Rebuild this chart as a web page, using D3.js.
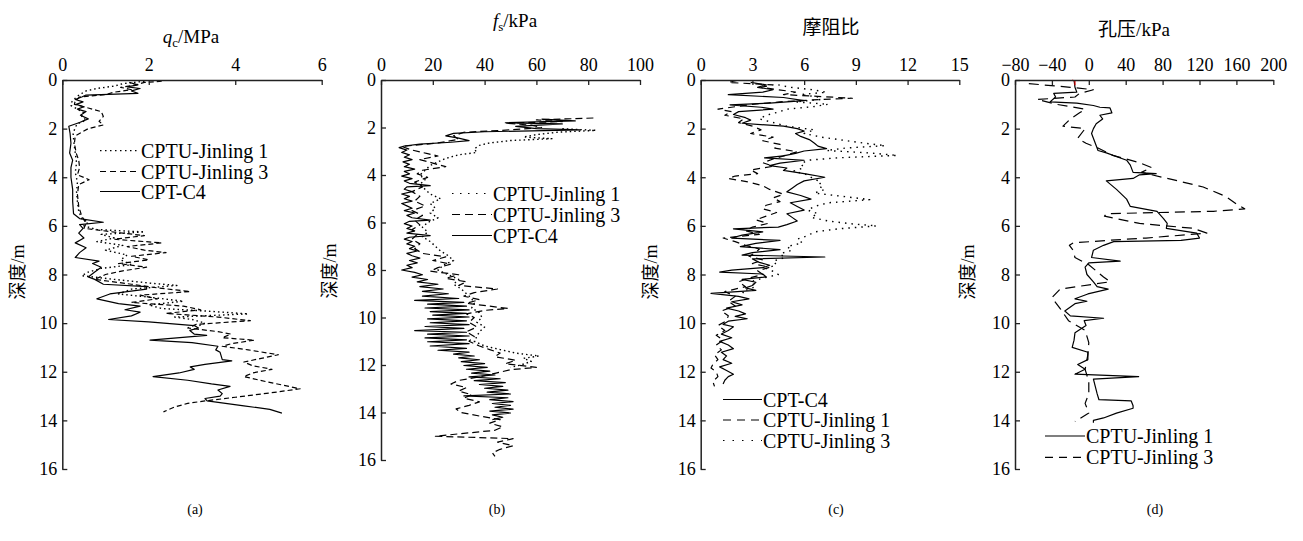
<!DOCTYPE html>
<html><head><meta charset="utf-8">
<script src="https://cdn.jsdelivr.net/npm/d3@7"></script>
<style>
html,body{margin:0;padding:0;background:#fff;}
svg{display:block;}
text{font-family:"Liberation Serif","Times New Roman","Noto Sans CJK SC",serif;fill:#000;}
</style></head><body>
<svg id="chart" width="1303" height="541"></svg>
<script>
// ---------- tick labels ----------
const depthTicks = [0,2,4,6,8,10,12,14,16];
const qcTicks = [0,2,4,6];
const fsTicks = [0,20,40,60,80,100];
const ratioTicks = [0,3,6,9,12,15];
const poreTicks = [-80,-40,0,40,80,120,160,200];
const panelLabels = ["(a)","(b)","(c)","(d)"];

// ---------- (a) qc / MPa : [depth m, value] ----------
const qcC4 = [[0.1,1.55],[0.2,1.75],[0.28,1.5],[0.35,1.8],[0.45,1.6],[0.55,1.75],[0.62,0.55],[0.7,0.45],[0.8,0.3],[0.9,0.48],[1.0,0.32],[1.1,0.5],[1.2,0.35],[1.3,0.55],[1.45,0.42],[1.6,0.6],[1.75,0.4],[1.9,0.15],[2.2,0.18],[2.6,0.2],[3.0,0.17],[3.3,0.24],[3.6,0.2],[4.0,0.2],[4.5,0.24],[5.0,0.24],[5.5,0.26],[5.7,0.4],[5.85,0.95],[5.95,0.4],[6.1,0.48],[6.3,0.38],[6.5,0.5],[6.7,0.3],[6.9,0.55],[7.1,0.4],[7.3,0.3],[7.45,0.85],[7.55,0.7],[7.7,0.9],[7.9,0.75],[8.1,0.6],[8.2,0.75],[8.4,0.95],[8.5,1.95],[8.6,1.95],[8.8,1.1],[9.0,0.8],[9.2,1.3],[9.3,1.8],[9.45,1.45],[9.55,1.8],[9.7,1.6],[9.85,1.07],[9.95,2.0],[10.1,3.05],[10.2,3.15],[10.3,2.95],[10.45,3.05],[10.5,3.34],[10.7,2.03],[10.8,3.0],[10.95,3.6],[11.1,3.55],[11.2,3.65],[11.5,3.7],[11.55,3.92],[11.7,3.3],[11.8,2.96],[11.9,3.05],[12.05,2.7],[12.2,2.1],[12.35,2.9],[12.5,3.45],[12.6,3.88],[12.75,3.6],[12.9,3.7],[13.0,3.65],[13.1,3.3],[13.2,3.35],[13.4,4.2],[13.55,4.8],[13.7,5.08]];
const qcJinling3 = [[0.05,2.3],[0.1,1.9],[0.2,1.7],[0.3,1.35],[0.4,1.6],[0.5,1.2],[0.6,1.0],[0.7,0.4],[0.85,0.3],[1.0,0.28],[1.15,0.6],[1.3,0.9],[1.5,0.95],[1.7,0.85],[1.85,0.95],[2.0,0.6],[2.15,0.45],[2.3,0.3],[2.6,0.28],[3.0,0.32],[3.3,0.38],[3.6,0.4],[3.9,0.35],[4.1,0.62],[4.3,0.38],[4.7,0.35],[5.2,0.38],[5.6,0.45],[5.9,0.55],[6.1,0.5],[6.3,1.4],[6.4,1.9],[6.55,1.2],[6.7,2.3],[6.85,1.5],[7.0,1.9],[7.1,2.4],[7.25,1.6],[7.4,2.0],[7.55,1.3],[7.7,1.95],[7.85,1.4],[8.0,1.0],[8.2,0.75],[8.4,1.6],[8.55,2.2],[8.7,2.96],[8.85,1.8],[9.0,2.2],[9.15,1.6],[9.3,2.8],[9.45,3.2],[9.6,2.4],[9.75,3.6],[9.9,4.35],[10.05,3.1],[10.2,2.9],[10.35,3.6],[10.45,3.9],[10.6,3.7],[10.7,4.45],[10.85,3.9],[10.95,3.7],[11.1,4.3],[11.3,5.0],[11.45,4.6],[11.6,4.2],[11.75,4.4],[11.9,4.85],[12.05,4.4],[12.2,4.2],[12.4,4.7],[12.55,5.1],[12.7,5.5],[12.85,4.9],[13.05,4.0],[13.2,3.3],[13.3,2.9],[13.45,2.6],[13.65,2.34]];
const qcJinling1 = [[0.05,1.9],[0.15,1.4],[0.25,1.2],[0.35,0.8],[0.45,0.55],[0.6,0.4],[0.75,0.3],[0.9,0.22],[1.05,0.2],[1.2,0.35],[1.35,0.5],[1.5,0.45],[1.65,0.55],[1.8,0.35],[1.95,0.3],[2.2,0.25],[2.6,0.27],[3.0,0.3],[3.4,0.33],[3.8,0.3],[4.2,0.35],[4.6,0.33],[5.0,0.35],[5.4,0.38],[5.7,0.45],[5.85,0.6],[6.0,0.5],[6.15,0.8],[6.25,1.9],[6.35,0.9],[6.5,1.2],[6.65,0.8],[6.8,1.4],[7.0,1.0],[7.2,1.5],[7.4,1.35],[7.6,1.6],[7.75,0.9],[7.9,0.6],[8.05,0.45],[8.2,1.2],[8.35,2.0],[8.45,2.65],[8.6,1.6],[8.8,1.3],[8.95,2.1],[9.1,2.8],[9.25,2.0],[9.4,2.3],[9.5,3.3],[9.62,4.3],[9.75,2.6],[9.85,3.0],[10.0,3.3],[10.15,3.1]];

// ---------- (b) fs / kPa ----------
const fsC4 = [[1.65,62],[1.72,75],[1.8,48],[1.85,70],[1.95,52],[2.05,60],[2.1,77],[2.18,40],[2.25,28],[2.35,25],[2.45,30],[2.55,34],[2.62,27],[2.7,15],[2.78,9],[2.85,7],[2.95,10],[3.05,8],[3.15,11],[3.25,9],[3.35,12],[3.45,8.5],[3.55,11],[3.65,9],[3.75,13],[3.85,9],[3.95,11],[4.05,8],[4.15,12],[4.25,9],[4.35,11],[4.45,19],[4.5,10],[4.6,9],[4.7,12],[4.8,8],[4.9,11],[5.0,9],[5.1,12],[5.2,8],[5.3,10],[5.4,12],[5.5,9],[5.6,13],[5.7,10],[5.8,12],[5.9,19],[5.95,11],[6.05,9],[6.15,12],[6.25,10],[6.35,13],[6.45,10],[6.55,19],[6.62,11],[6.7,9],[6.8,12],[6.9,10],[7.0,13],[7.1,11],[7.2,14],[7.3,10],[7.4,12],[7.5,15],[7.6,11],[7.7,14],[7.8,10],[7.9,12],[8.0,8],[8.1,13],[8.2,16],[8.3,12],[8.4,18],[8.5,14],[8.6,22],[8.7,15],[8.8,24],[8.9,16],[9.0,26],[9.1,16],[9.2,30],[9.28,13],[9.36,32],[9.44,18],[9.52,33],[9.6,17],[9.68,34],[9.75,19],[9.83,33],[9.9,20],[9.98,34],[10.06,18],[10.14,33],[10.22,19],[10.3,34],[10.38,17],[10.46,32],[10.55,13],[10.62,33],[10.7,18],[10.78,34],[10.86,17],[10.94,33],[11.02,18],[11.1,34],[11.2,19],[11.3,33],[11.38,22],[11.46,34],[11.54,28],[11.62,36],[11.7,30],[11.78,38],[11.86,31],[11.94,40],[12.02,32],[12.1,41],[12.18,33],[12.26,42],[12.34,35],[12.42,44],[12.5,34],[12.58,46],[12.66,36],[12.74,48],[12.82,38],[12.9,47],[12.98,40],[13.06,49],[13.14,41],[13.22,50],[13.3,32],[13.38,49],[13.46,42],[13.54,51],[13.62,43],[13.7,50],[13.78,44],[13.86,51],[13.94,42],[14.02,50],[14.1,43],[14.2,47],[14.3,43]];
const fsJinling3 = [[1.6,82],[1.68,60],[1.75,70],[1.82,48],[1.9,58],[2.0,62],[2.1,50],[2.2,32],[2.35,28],[2.5,30],[2.65,22],[2.8,8],[2.95,12],[3.1,18],[3.2,22],[3.35,15],[3.5,20],[3.65,25],[3.8,16],[3.95,14],[4.1,18],[4.3,13],[4.5,16],[4.7,12],[4.9,15],[5.1,13],[5.3,17],[5.5,12],[5.7,16],[5.9,13],[6.1,15],[6.3,12],[6.5,14],[6.7,12],[6.9,15],[7.1,13],[7.3,16],[7.45,25],[7.6,20],[7.75,27],[7.9,22],[8.05,19],[8.2,30],[8.35,25],[8.5,33],[8.65,30],[8.8,45],[8.95,36],[9.1,32],[9.25,38],[9.4,33],[9.55,44],[9.62,49],[9.7,40],[9.85,33],[10.0,36],[10.2,34],[10.4,37],[10.6,33],[10.8,36],[11.0,34],[11.2,38],[11.35,42],[11.5,46],[11.65,44],[11.8,52],[11.95,48],[12.1,60],[12.2,50],[12.35,44],[12.5,38],[12.65,30],[12.8,27],[12.95,33],[13.1,30],[13.25,35],[13.4,32],[13.55,38],[13.7,34],[13.85,29],[14.0,31],[14.15,38],[14.3,46],[14.45,42],[14.6,47],[14.75,44],[14.9,30],[15.0,21],[15.1,51],[15.25,45],[15.4,51],[15.55,46],[15.7,43],[15.85,44]];
const fsJinling1 = [[2.05,70],[2.12,83],[2.2,68],[2.3,60],[2.4,55],[2.47,66],[2.55,50],[2.65,42],[2.75,38],[2.9,36],[3.05,37],[3.15,30],[3.3,25],[3.45,22],[3.6,19],[3.8,17],[4.0,15],[4.2,17],[4.4,15],[4.6,17],[4.8,19],[5.0,23],[5.2,19],[5.4,21],[5.6,19],[5.8,22],[6.0,18],[6.2,16],[6.4,18],[6.6,16],[6.8,19],[7.0,21],[7.2,23],[7.4,26],[7.6,28],[7.8,24],[8.0,22],[8.2,26],[8.4,30],[8.6,28],[8.8,31],[9.0,33],[9.2,35],[9.4,36],[9.6,35],[9.8,38],[10.0,39],[10.2,37],[10.4,40],[10.6,38],[10.8,37],[11.0,36],[11.2,40],[11.35,46],[11.5,52],[11.62,61],[11.72,55],[11.85,58],[12.0,54],[12.1,50]];

// ---------- (c) friction ratio ----------
const ratioC4 = [[0.1,2.9],[0.2,3.8],[0.3,3.3],[0.4,4.2],[0.5,3.6],[0.6,1.6],[0.72,4.8],[0.85,6.0],[0.95,4.0],[1.02,1.7],[1.12,3.5],[1.2,4.2],[1.3,2.2],[1.42,1.9],[1.55,2.6],[1.65,2.9],[1.78,2.4],[1.9,4.8],[2.0,5.6],[2.1,6.0],[2.2,5.5],[2.32,5.8],[2.45,6.3],[2.6,6.6],[2.72,6.8],[2.82,7.3],[2.92,6.0],[3.02,5.5],[3.12,4.8],[3.2,3.7],[3.3,6.0],[3.42,4.6],[3.52,4.0],[3.62,5.0],[3.72,4.8],[3.85,6.0],[4.0,7.2],[4.15,6.0],[4.3,5.6],[4.45,5.3],[4.6,5.0],[4.75,5.8],[4.9,6.4],[5.05,5.2],[5.2,5.6],[5.35,6.0],[5.5,5.0],[5.65,5.3],[5.8,5.6],[5.95,5.0],[6.05,4.5],[6.12,1.9],[6.25,3.6],[6.38,2.4],[6.5,1.8],[6.6,4.6],[6.72,3.2],[6.85,2.3],[6.98,4.6],[7.1,3.0],[7.2,2.4],[7.28,7.2],[7.36,3.0],[7.5,3.4],[7.62,4.0],[7.72,3.6],[7.82,1.8],[7.9,1.1],[7.98,3.6],[8.1,3.8],[8.2,2.4],[8.32,3.2],[8.45,3.0],[8.55,2.6],[8.65,3.2],[8.78,0.6],[8.9,2.2],[9.0,2.8],[9.12,1.8],[9.25,2.4],[9.38,1.5],[9.5,2.2],[9.62,2.6],[9.72,2.0],[9.82,2.7],[9.92,1.6],[10.05,1.3],[10.15,1.9],[10.3,1.6],[10.45,1.2],[10.6,1.8],[10.75,1.1],[10.9,1.6],[11.05,1.9],[11.2,1.2],[11.35,1.5],[11.5,1.3],[11.65,1.8],[11.8,1.1],[11.95,1.5],[12.1,1.9],[12.2,1.6],[12.35,1.4],[12.5,1.3]];
const ratioJinling1 = [[0.02,2.1],[0.1,1.6],[0.2,4.2],[0.3,3.5],[0.4,4.5],[0.5,5.5],[0.6,4.8],[0.75,8.8],[0.82,6.5],[0.9,4.6],[1.0,3.0],[1.1,2.0],[1.2,1.0],[1.3,1.8],[1.45,1.4],[1.6,2.5],[1.75,2.2],[1.9,3.0],[2.05,3.5],[2.2,2.9],[2.35,4.2],[2.5,3.6],[2.65,4.6],[2.8,4.3],[2.95,5.6],[3.1,4.9],[3.25,4.2],[3.4,3.6],[3.55,4.2],[3.7,2.9],[3.85,3.3],[3.95,2.0],[4.05,1.6],[4.2,2.8],[4.35,3.6],[4.5,4.0],[4.7,4.8],[4.85,4.2],[5.0,4.6],[5.15,3.8],[5.3,3.6],[5.45,4.4],[5.6,3.8],[5.75,3.2],[5.9,3.9],[6.05,3.0],[6.2,2.6],[6.35,3.4],[6.5,1.3],[6.65,2.0],[6.8,2.6],[6.95,3.4],[7.1,3.2],[7.25,2.8],[7.4,3.6],[7.55,3.0],[7.7,4.0],[7.85,3.3],[8.0,3.6],[8.15,2.8],[8.3,2.2],[8.5,2.6],[8.7,1.4],[8.9,2.0],[9.1,1.6],[9.3,2.0],[9.5,1.2],[9.7,1.6],[9.9,1.5],[10.1,1.0],[10.3,1.4],[10.5,0.9],[10.7,1.3],[10.9,0.9],[11.1,1.2],[11.3,0.8],[11.5,1.0],[11.7,0.7],[11.85,0.6],[12.0,0.9],[12.2,1.0],[12.4,0.7],[12.6,0.8]];
const ratioJinling3 = [[0.2,4.5],[0.3,5.2],[0.4,6.5],[0.5,7.3],[0.6,5.8],[0.7,6.8],[0.8,7.0],[0.9,5.5],[1.0,7.4],[1.1,6.5],[1.2,5.0],[1.3,4.6],[1.45,3.8],[1.6,3.4],[1.75,4.2],[1.9,5.0],[2.05,6.6],[2.2,6.0],[2.35,7.0],[2.5,8.5],[2.6,9.5],[2.7,10.7],[2.8,8.4],[2.9,7.3],[3.0,9.8],[3.1,11.4],[3.2,8.0],[3.3,6.2],[3.45,5.8],[3.6,6.0],[3.75,5.4],[3.9,6.2],[4.05,6.5],[4.2,7.0],[4.35,6.8],[4.5,7.2],[4.65,6.6],[4.8,8.4],[4.92,9.8],[5.05,7.4],[5.2,6.6],[5.35,6.2],[5.5,6.8],[5.65,6.4],[5.8,7.4],[5.92,8.8],[6.0,10.2],[6.12,8.0],[6.25,6.6],[6.4,6.2],[6.55,5.6],[6.7,5.9],[6.85,5.0],[7.0,5.3],[7.15,4.6],[7.3,4.9],[7.45,4.2],[7.6,4.4],[7.75,3.8],[7.9,4.3],[8.0,4.5],[8.15,3.6],[8.3,2.9],[8.5,3.2],[8.7,2.4],[8.9,2.7]];

// ---------- (d) pore pressure / kPa ----------
const poreJinling1 = [[0,-16],[0.3,-15],[0.5,-13],[0.55,-38],[0.7,-36],[0.9,-42],[0.95,-13],[1.05,5],[1.12,12],[1.15,23],[1.35,25],[1.45,12],[1.6,15],[1.8,8],[2.0,5],[2.2,3],[2.5,6],[2.9,10],[3.0,19],[3.3,41],[3.5,45],[3.8,48],[3.85,73],[3.9,55],[4.05,48],[4.15,19],[4.5,30],[4.9,41],[5.2,45],[5.4,74],[5.7,81],[5.9,85],[6.1,84],[6.3,117],[6.5,120],[6.6,100],[6.65,27],[6.8,16],[7.0,5],[7.3,3],[7.45,34],[7.52,0],[7.7,-4],[8.0,-2],[8.3,5],[8.5,9],[8.6,21],[8.8,-1],[9.0,-15],[9.1,-2],[9.2,-15],[9.5,-26],[9.7,-20],[9.8,16],[9.9,-5],[10.1,-3],[10.4,-15],[10.7,-16],[11.0,-18],[11.2,-1],[11.5,-1],[11.7,-12],[11.9,-4],[12.1,-15],[12.2,54],[12.3,5],[12.6,7],[12.9,9],[13.15,11],[13.2,46],[13.4,48],[13.5,48],[13.7,30],[13.9,16],[14.0,5],[14.1,5]];
const poreJinling3 = [[0.15,-65],[0.3,-20],[0.4,5],[0.55,-10],[0.7,-15],[0.8,-56],[1.0,-35],[1.2,-4],[1.35,-10],[1.6,-20],[1.9,-28],[2.0,-4],[2.4,-12],[2.6,-3],[2.8,10],[3.1,26],[3.4,55],[3.6,68],[3.8,57],[4.1,91],[4.4,124],[4.8,149],[5.1,160],[5.3,169],[5.4,135],[5.5,19],[5.6,17],[5.9,55],[6.1,113],[6.3,128],[6.5,62],[6.6,19],[6.7,-17],[6.8,-21],[7.0,-17],[7.3,-15],[7.6,0],[8.1,16],[8.3,23],[8.6,-31],[8.95,-40],[9.4,-31],[9.9,-22],[10.3,-4],[10.8,0],[11.3,-1],[11.9,-4],[12.4,0],[12.9,0],[13.3,-4],[13.7,0],[14.05,-15]];
const poreRedMark = [[0,-18],[0.05,-15],[0.22,-15]];

// ---------- drawing ----------
const svg = d3.select('#chart');
const SOLID = null;
const fmt = v => v < 0 ? '\u2212' + Math.abs(v) : String(v);
const panels = [
  {x0:62.3, x1:321.7, y0:80, y1:469, domain:[0,6], ticks:qcTicks,
   title:{sym:'q', sub:'c', unit:'/MPa', cx:191, by:43},
   ylab:{x:18, y:272}, plab:{x:195, y:514},
   series:[{d:qcJinling1, dash:'1.5,3'},{d:qcJinling3, dash:'5,3'},{d:qcC4, dash:SOLID}],
   legend:{x0:100, x1:140, tx:141, ys:[150.7,171.5,191.5],
     items:[{t:'CPTU-Jinling 1', dash:'1.5,3.5'},{t:'CPTU-Jinling 3', dash:'6,4'},{t:'CPT-C4', dash:SOLID}]}},
  {x0:381, x1:640, y0:80, y1:460, domain:[0,100], ticks:fsTicks,
   title:{sym:'f', sub:'s', unit:'/kPa', cx:515, by:27},
   ylab:{x:330, y:271}, plab:{x:497, y:514},
   series:[{d:fsJinling1, dash:'1.5,3'},{d:fsJinling3, dash:'7,4'},{d:fsC4, dash:SOLID}],
   legend:{x0:452, x1:492, tx:493, ys:[193.5,214.5,235.5],
     items:[{t:'CPTU-Jinling 1', dash:'1.5,6.5'},{t:'CPTU-Jinling 3', dash:'8,5'},{t:'CPT-C4', dash:SOLID}]}},
  {x0:700.7, x1:959.3, y0:80, y1:469, domain:[0,15], ticks:ratioTicks,
   title:{plain:'摩阻比', cx:831, by:34},
   ylab:{x:651, y:272}, plab:{x:836, y:514},
   series:[{d:ratioJinling3, dash:'1.5,5'},{d:ratioJinling1, dash:'7,5'},{d:ratioC4, dash:SOLID}],
   legend:{x0:723, x1:762, tx:763, ys:[399.5,420,440.5],
     items:[{t:'CPT-C4', dash:SOLID},{t:'CPTU-Jinling 1', dash:'8,6'},{t:'CPTU-Jinling 3', dash:'1.5,8'}]}},
  {x0:1015, x1:1273.3, y0:80, y1:469, domain:[-80,200], ticks:poreTicks,
   title:{plain:'孔压/kPa', cx:1134, by:36},
   ylab:{x:968, y:272}, plab:{x:1155, y:514},
   series:[{d:poreJinling3, dash:'10,6'},{d:poreJinling1, dash:SOLID},{d:poreRedMark, dash:SOLID, color:'#e00000'}],
   legend:{x0:1045, x1:1085, tx:1086, ys:[436,457.3],
     items:[{t:'CPTU-Jinling 1', dash:SOLID},{t:'CPTU-Jinling 3', dash:'8,6'}]}}
];

panels.forEach((p,i)=>{
  const x = d3.scaleLinear().domain(p.domain).range([p.x0,p.x1]);
  const y = d3.scaleLinear().domain([0,16]).range([p.y0,p.y1]);
  const g = svg.append('g');

  // data lines
  const line = d3.line().x(q=>x(q[1])).y(q=>y(q[0]));
  p.series.forEach(s=>{
    g.append('path').attr('d', line(s.d))
      .attr('fill','none').attr('stroke', s.color||'#000')
      .attr('stroke-width', s.dash && s.dash.startsWith('1.5') ? 1.4 : 1.2)
      .attr('stroke-linejoin','round')
      .attr('stroke-dasharray', s.dash);
  });

  // axes
  const top = g.append('g').attr('transform',`translate(0,${p.y0})`)
    .call(d3.axisTop(x).tickValues(p.ticks).tickFormat(fmt).tickSize(-5).tickSizeOuter(0).tickPadding(9));
  const left = g.append('g').attr('transform',`translate(${p.x0},0)`)
    .call(d3.axisLeft(y).tickValues(depthTicks).tickFormat(fmt).tickSize(-5).tickSizeOuter(0).tickPadding(5));
  [top,left].forEach(a=>{
    a.attr('font-family',null).attr('font-size',null);
    a.select('.domain').attr('stroke','#222').attr('stroke-width',1.5);
    a.selectAll('.tick line').attr('stroke','#222').attr('stroke-width',1.3);
    a.selectAll('.tick text').style('font-size','18px').attr('fill','#000');
  });

  // title
  const t = g.append('text').attr('x',p.title.cx).attr('y',p.title.by)
    .attr('text-anchor','middle').style('font-size','19px');
  if (p.title.plain) {
    t.text(p.title.plain);
  } else {
    t.append('tspan').attr('font-style','italic').text(p.title.sym);
    t.append('tspan').style('font-size','13px').attr('dy',4).text(p.title.sub);
    t.append('tspan').attr('dy',-4).text(p.title.unit);
  }

  // y label
  g.append('text').attr('transform',`translate(${p.ylab.x},${p.ylab.y}) rotate(-90)`)
    .attr('text-anchor','middle').attr('dy','0.35em').style('font-size','18px').text('深度/m');

  // panel label
  g.append('text').attr('x',p.plab.x).attr('y',p.plab.y)
    .attr('text-anchor','middle').style('font-size','14px').text(panelLabels[i]);

  // legend
  p.legend.items.forEach((it,k)=>{
    const ly = p.legend.ys[k];
    g.append('line').attr('x1',p.legend.x0).attr('x2',p.legend.x1).attr('y1',ly).attr('y2',ly)
      .attr('stroke','#000').attr('stroke-width',1.2).attr('stroke-dasharray',it.dash);
    g.append('text').attr('x',p.legend.tx).attr('y',ly+7).style('font-size','20px').text(it.t);
  });
});
</script>
</body></html>
